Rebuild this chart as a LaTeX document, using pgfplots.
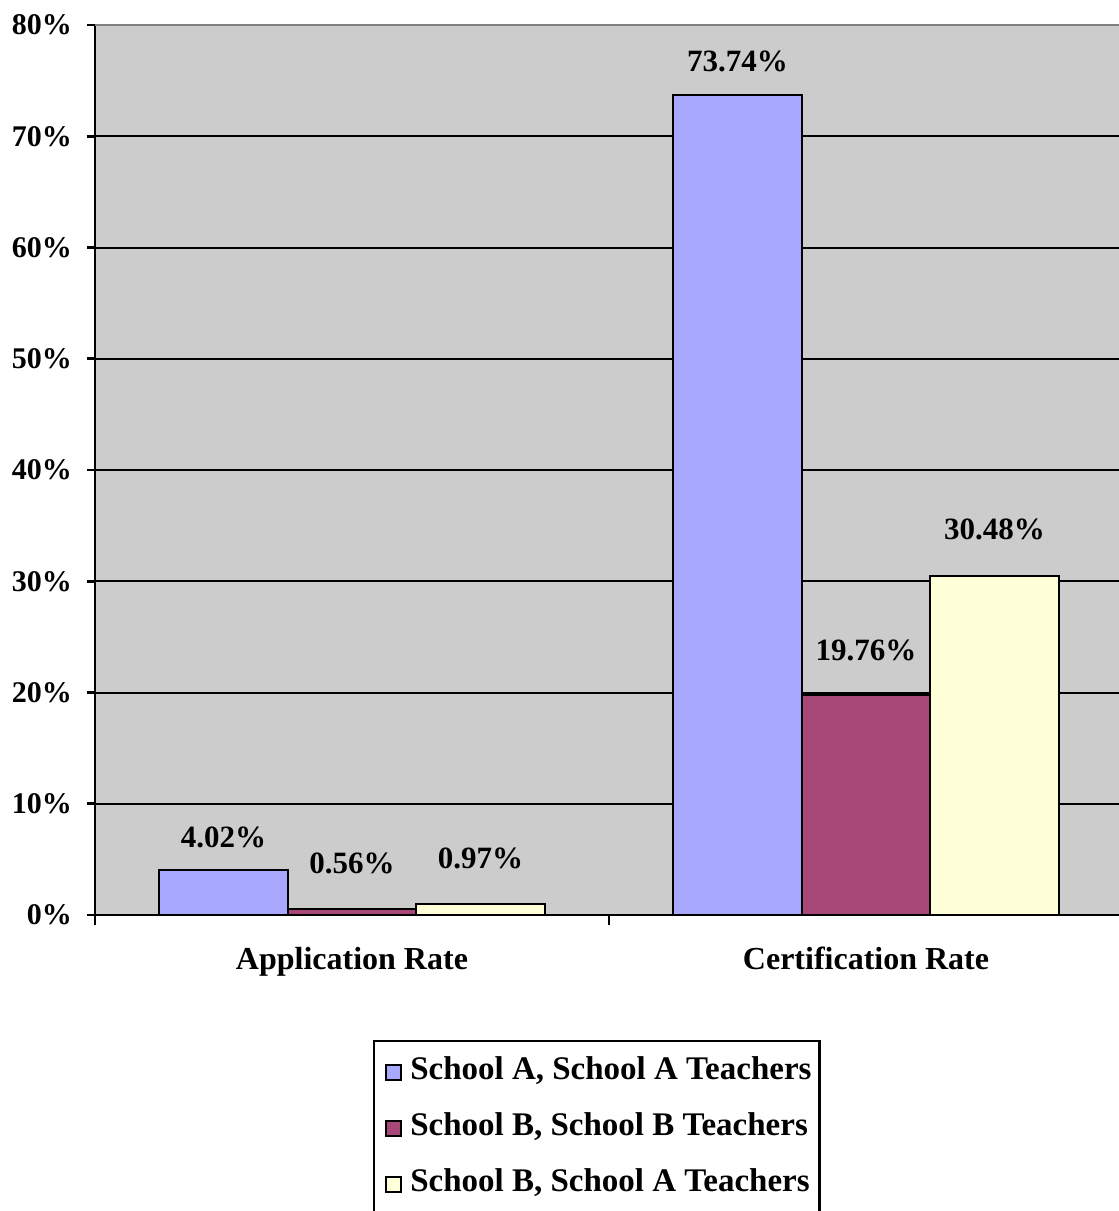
\documentclass[border=0pt]{standalone}
\usepackage{fontspec}
\setmainfont{Liberation Serif}
\usepackage{pgfplots}
\pgfplotsset{compat=1.18}

\definecolor{plotbg}{HTML}{CCCCCC}
\definecolor{barA}{HTML}{A8A8FF}
\definecolor{barB}{HTML}{A84878}
\definecolor{barC}{HTML}{FFFFD8}

\begin{document}
\begin{tikzpicture}
\begin{axis}[
  scale only axis,
  width=514pt, height=445pt,
  ybar=0pt, bar width=0.25,
  xmin=-0.5, xmax=1.5, ymin=0, ymax=80,
  axis background/.style={fill=plotbg},
  axis x line*=bottom, axis y line*=left,
  axis line style={line width=1.3pt},
  clip=false,
  tick align=outside,
  xtick={0,1},
  xticklabels={Application Rate, Certification Rate},
  minor xtick={-0.5,0.5,1.5},
  major x tick style={draw=none},
  minor x tick style={line width=1.3pt, black},
  minor tick length=5pt,
  ytick={0,10,...,70},
  extra y ticks={80},
  extra y tick style={major grid style={color=black!50, line width=1pt}},
  y tick style={line width=1.3pt, black},
  major tick length=4pt,
  ymajorgrids,
  major grid style={black, line width=1pt},
  /pgf/number format/assume math mode=true,
  yticklabel={\pgfmathprintnumber{\tick}\%},
  yticklabel style={font=\fontsize{15}{18}\selectfont\bfseries, xshift=-4pt},
  xticklabel style={font=\fontsize{16}{19}\selectfont\bfseries, yshift=-8.5pt},
  every axis plot/.append style={draw=black, line width=1pt},
  nodes near coords={\pgfmathprintnumber[fixed,fixed zerofill,precision=2]{\pgfplotspointmeta}\%},
  every node near coord/.append style={font=\fontsize{15.5}{18}\selectfont\bfseries, black},
  legend style={
    at={(0.2705,-0.1404)}, anchor=north west,
    draw=black, line width=1.2pt,
    font=\fontsize{16.5}{19}\selectfont\bfseries,
    nodes={inner sep=2pt, text height=11pt, text depth=4pt},
    row sep=9pt,
    inner xsep=2pt, inner ysep=6pt,
  },
  legend cell align=left,
  legend image code/.code={%
    \path[draw=none, fill=none] (0pt,0pt) -- (14pt,0pt);
    \draw[#1, line width=1pt] (4pt,-3.75pt) rectangle (11.5pt,3.75pt);},
]
\addplot[fill=barA, every node near coord/.append style={yshift=7.5pt}] coordinates {(0,4.02) (1,73.74)};
\addplot[fill=barB, every node near coord/.append style={yshift=13.5pt}] coordinates {(0,0.56) (1,19.76)};
\addplot[fill=barC, every node near coord/.append style={yshift=14pt}] coordinates {(0,0.97) (1,30.48)};
\legend{{School A, School A Teachers}, {School B, School B Teachers}, {School B, School A Teachers}}
\end{axis}
\pgfresetboundingbox
\useasboundingbox (-47.5pt,-148pt) rectangle (512pt,457.5pt);
\end{tikzpicture}
\end{document}
